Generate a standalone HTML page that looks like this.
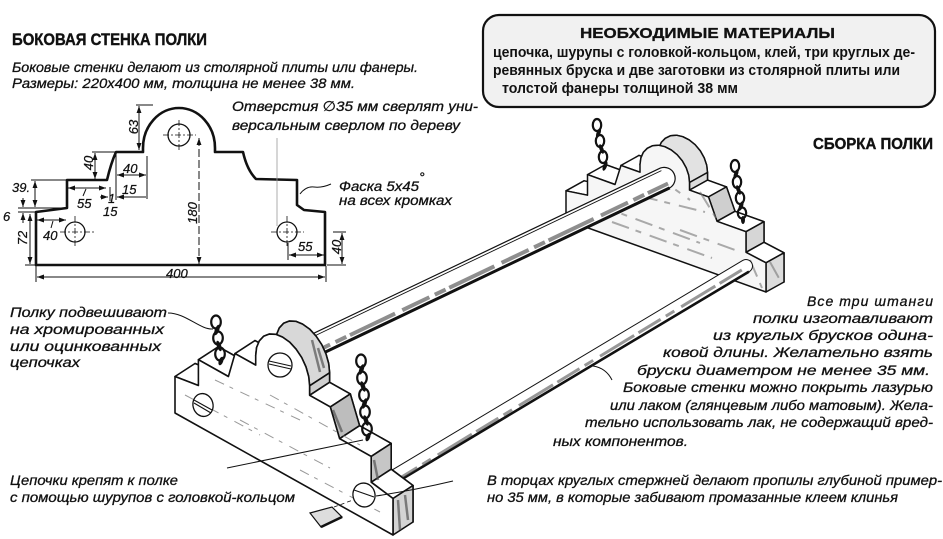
<!DOCTYPE html>
<html><head><meta charset="utf-8"><style>
html,body{margin:0;padding:0;background:#fff;}
svg{display:block;}
text{font-family:"Liberation Sans","DejaVu Sans",sans-serif;fill:#111;}
.it{font-style:italic;font-size:14px;stroke:#111;stroke-width:0.3;}
.b{font-weight:bold;}
.d{font-style:italic;font-size:13px;stroke:#111;stroke-width:0.25;}
</style></head><body>
<svg width="943" height="539" viewBox="0 0 943 539" xmlns="http://www.w3.org/2000/svg">
<defs>
<marker id="ar" viewBox="0 0 10 10" refX="10" refY="5" markerWidth="7" markerHeight="7" orient="auto-start-reverse" markerUnits="userSpaceOnUse"><path d="M0,1.5 L10,5 L0,8.5 z" fill="#111"/></marker>
</defs>
<rect width="943" height="539" fill="#fff"/>

<!-- ===== Left header texts ===== -->
<text x="12" y="45" class="b" font-size="16.5" stroke="#111" stroke-width="0.4" textLength="195" lengthAdjust="spacingAndGlyphs">БОКОВАЯ СТЕНКА ПОЛКИ</text>
<text x="12" y="72" class="it" textLength="406" lengthAdjust="spacingAndGlyphs">Боковые стенки делают из столярной плиты или фанеры.</text>
<text x="12" y="88" class="it" textLength="343" lengthAdjust="spacingAndGlyphs">Размеры: 220х400 мм, толщина не менее 38 мм.</text>
<text x="232" y="111" class="it" textLength="246" lengthAdjust="spacingAndGlyphs">Отверстия ∅35 мм сверлят уни-</text>
<text x="232" y="130" class="it" textLength="228" lengthAdjust="spacingAndGlyphs">версальным сверлом по дереву</text>
<text x="339" y="191" class="it" textLength="80" lengthAdjust="spacingAndGlyphs">Фаска 5х45</text>
<text x="419" y="182" class="it" font-size="8">°</text>
<text x="339" y="205" class="it" textLength="113" lengthAdjust="spacingAndGlyphs">на всех кромках</text>

<!-- ===== Profile drawing ===== -->
<path d="M36,265 L36,212 L67,208 L67,180 L107,180 Q111,163 116,152 L143,152 L143,148 A36,40 0 0 1 215,148 L215,152 L243,152 Q247,170 256,179 L297,180 L297,205 L304,210 L325,212 L325,265 Z" fill="none" stroke="#111" stroke-width="2.6" stroke-linejoin="round"/>
<g fill="none" stroke="#111" stroke-width="1.3">
<circle cx="75" cy="232" r="10"/>
<circle cx="179" cy="135" r="11"/>
<circle cx="287" cy="232" r="10"/>
</g>
<g stroke="#111" stroke-width="0.8" stroke-dasharray="6 2 2 2">
<line x1="60" y1="232" x2="96" y2="232"/><line x1="75" y1="216" x2="75" y2="248"/>
<line x1="163" y1="135" x2="196" y2="135"/><line x1="179" y1="120" x2="179" y2="151"/>
<line x1="271" y1="232" x2="304" y2="232"/><line x1="287" y1="216" x2="287" y2="248"/>
</g>
<line x1="277" y1="138" x2="277" y2="226" stroke="#999" stroke-width="0.8"/>
<g fill="none" stroke="#111" stroke-width="1">
<line x1="136" y1="105" x2="153" y2="105"/>
<line x1="139" y1="106" x2="139" y2="150" marker-start="url(#ar)" marker-end="url(#ar)"/>
<line x1="92" y1="152" x2="115" y2="152"/>
<line x1="95" y1="153" x2="95" y2="179" marker-start="url(#ar)" marker-end="url(#ar)"/>
<line x1="31" y1="180" x2="66" y2="180"/>
<line x1="35" y1="181" x2="35" y2="207" marker-start="url(#ar)" marker-end="url(#ar)"/>
<line x1="18" y1="208" x2="66" y2="208"/>
<line x1="18" y1="212" x2="35" y2="212"/>
<line x1="23" y1="198" x2="23" y2="207" marker-end="url(#ar)"/>
<line x1="23" y1="223" x2="23" y2="213" marker-end="url(#ar)"/>
<line x1="30" y1="214" x2="30" y2="264" marker-start="url(#ar)" marker-end="url(#ar)"/>
<line x1="25" y1="265" x2="35" y2="265"/>
<line x1="37" y1="220" x2="66" y2="220" marker-start="url(#ar)" marker-end="url(#ar)"/>
<line x1="53" y1="221" x2="51" y2="228"/>
<line x1="68" y1="188" x2="106" y2="188" marker-start="url(#ar)" marker-end="url(#ar)"/>
<line x1="86" y1="189" x2="83" y2="196"/>
<line x1="116" y1="153" x2="116" y2="200"/>
<line x1="147" y1="156" x2="147" y2="199"/>
<line x1="117" y1="175" x2="146" y2="175" marker-start="url(#ar)" marker-end="url(#ar)"/>
<line x1="146" y1="197" x2="117" y2="197" marker-end="url(#ar)"/>
<line x1="100" y1="197" x2="108" y2="197" marker-end="url(#ar)"/>
<line x1="110" y1="187" x2="110" y2="201"/>
<line x1="199" y1="138" x2="199" y2="264" stroke-dasharray="8 3" marker-start="url(#ar)" marker-end="url(#ar)"/>
<line x1="288" y1="243" x2="288" y2="260"/>
<line x1="289" y1="255" x2="324" y2="255" marker-start="url(#ar)" marker-end="url(#ar)"/>
<line x1="333" y1="232" x2="346" y2="232"/>
<line x1="327" y1="265" x2="346" y2="265"/>
<line x1="342" y1="233" x2="342" y2="264" marker-start="url(#ar)" marker-end="url(#ar)"/>
<line x1="36" y1="266" x2="36" y2="282"/>
<line x1="326" y1="266" x2="326" y2="282"/>
<line x1="37" y1="277" x2="325" y2="277" marker-start="url(#ar)" marker-end="url(#ar)"/>
<path d="M300,194 Q306,186 314,187 Q322,188 331,184"/>
</g>
<g>
<text transform="translate(138,127) rotate(-90)" text-anchor="middle" class="d">63</text>
<text transform="translate(93,163) rotate(-90)" text-anchor="middle" class="d">40</text>
<text transform="translate(27,238) rotate(-90)" text-anchor="middle" class="d">72</text>
<text transform="translate(197,213) rotate(-90)" text-anchor="middle" class="d">180</text>
<text transform="translate(341,247) rotate(-90)" text-anchor="middle" class="d">40</text>
<text x="123" y="173" class="d">40</text>
<text x="12" y="192" class="d">39.</text>
<text x="77" y="208" class="d">55</text>
<text x="122" y="194" class="d">15</text>
<text x="108" y="203" class="d" font-size="9">1</text>
<text x="103" y="216" class="d">15</text>
<text x="3" y="221" class="d">6</text>
<text x="43" y="240" class="d">40</text>
<text x="298" y="251" class="d">55</text>
<text x="166" y="278" class="d">400</text>
</g>

<!-- ===== Materials box ===== -->
<rect x="483" y="15" width="452" height="92" rx="16" ry="16" fill="#f1f1f1" stroke="#111" stroke-width="2.2"/>
<text x="580" y="38" class="b" font-size="15" stroke="#111" stroke-width="0.3" textLength="255" lengthAdjust="spacingAndGlyphs">НЕОБХОДИМЫЕ МАТЕРИАЛЫ</text>
<text x="493" y="57" font-size="14.5" font-weight="bold" textLength="422" lengthAdjust="spacingAndGlyphs">цепочка, шурупы с головкой-кольцом, клей, три круглых де-</text>
<text x="493" y="75" font-size="14.5" font-weight="bold" textLength="407" lengthAdjust="spacingAndGlyphs">ревянных бруска и две заготовки из столярной плиты или</text>
<text x="502" y="93" font-size="14.5" font-weight="bold" textLength="236" lengthAdjust="spacingAndGlyphs">толстой фанеры толщиной 38 мм</text>

<text x="813" y="149" class="b" font-size="16" stroke="#111" stroke-width="0.4" textLength="120" lengthAdjust="spacingAndGlyphs">СБОРКА ПОЛКИ</text>

<!-- ===== Far wall ===== -->
<g stroke="#111" stroke-width="1.5" stroke-linejoin="round">
<polygon fill="#fff" points="584,210 584,180.8 605.5,185.2 605.5,164.6 633,174.5 639,155.4 658,162.2 658,154.6 658.9,147.9 661.3,142.4 665.3,138.3 670.4,135.8 676.4,135.2 682.8,136.7 689.2,139.9 695.1,144.7 700.3,150.9 704.2,157.9 706.7,165.2 707.5,172.5 707.5,180.1 726.5,186.9 735,211.3 764,221.7 764,242.3 784,252.8 784,282"/>
<polygon fill="#fff" points="566,190.8 587.5,195.2 605.5,185.2 584,180.8"/>
<polygon fill="#fff" points="587.5,174.6 615,184.5 633,174.5 605.5,164.6"/>
<polygon fill="#fff" points="621,165.4 640,172.2 658,162.2 639,155.4"/>
<polygon fill="#e2e2e2" points="640,164.6 640.9,157.9 643.3,152.4 647.3,148.3 652.4,145.8 658.4,145.2 664.8,146.7 671.2,149.9 677.1,154.7 682.3,160.9 686.2,167.9 688.7,175.2 689.5,182.5 707.5,172.5 706.7,165.2 704.2,157.9 700.3,150.9 695.1,144.7 689.2,139.9 682.8,136.7 676.4,135.2 670.4,135.8 665.3,138.3 661.3,142.4 658.9,147.9 658,154.6"/>
<polygon fill="#ddd" points="689.5,182.5 689.5,190.1 707.5,180.1 707.5,172.5"/>
<polygon fill="#fff" points="689.5,190.1 708.5,196.9 726.5,186.9 707.5,180.1"/>
<polygon fill="#cfcfcf" points="708.5,196.9 717,221.3 735,211.3 726.5,186.9"/>
<polygon fill="#fff" points="717,221.3 746,231.7 764,221.7 735,211.3"/>
<polygon fill="#d6d6d6" points="746,231.7 746,252.3 764,242.3 764,221.7"/>
<polygon fill="#fff" points="746,252.3 766,262.8 784,252.8 764,242.3"/>
<polygon fill="#dcdcdc" points="766,262.8 766,292 784,282 784,252.8"/>
<polygon fill="#f6f6f6" points="566,220 566,190.8 587.5,195.2 587.5,174.6 615,184.5 621,165.4 640,172.2 640,164.6 640.9,157.9 643.3,152.4 647.3,148.3 652.4,145.8 658.4,145.2 664.8,146.7 671.2,149.9 677.1,154.7 682.3,160.9 686.2,167.9 688.7,175.2 689.5,182.5 689.5,190.1 708.5,196.9 717,221.3 746,231.7 746,252.3 766,262.8 766,292"/>
</g>
<g stroke="#777" stroke-width="2" fill="none" opacity="0.6" stroke-dasharray="18 7 6 9">
<path d="M598,205 L700,243"/><path d="M612,222 L712,258"/><path d="M640,196 L705,212"/>
<path d="M655,175 L690,200"/><path d="M680,230 L735,250"/><path d="M750,260 L762,288"/>
<path d="M770,262 L780,280"/><path d="M700,192 L716,218"/>
</g>

<!-- ===== Rods ===== -->
<path d="M384.7,474.4 L742.7,260.4 A6.5,6.5 0 0 1 749.3,271.6 L391.3,485.6 Z" fill="#fff" stroke="#111" stroke-width="1"/>
<line x1="391" y1="485.6" x2="749" y2="271.6" stroke="#111" stroke-width="2.6"/>
<line x1="395" y1="481" x2="745" y2="268" stroke="#555" stroke-width="3" opacity="0.6" stroke-dasharray="26 6 10 8 40 5"/>
<path d="M295.3,342.1 L660.3,168.1 A11,11 0 0 1 669.7,187.9 L304.7,361.9 Z" fill="#fff" stroke="#111" stroke-width="1.2"/>
<line x1="296.4" y1="344.6" x2="661.4" y2="170.6" stroke="#111" stroke-width="0.9"/>
<line x1="304.7" y1="361.9" x2="669.7" y2="187.9" stroke="#111" stroke-width="3"/>
<line x1="303" y1="357.5" x2="668" y2="183.5" stroke="#444" stroke-width="4" opacity="0.6" stroke-dasharray="30 6 12 4 50 8"/>

<!-- ===== Near wall ===== -->
<g stroke="#111" stroke-width="1.6" stroke-linejoin="round">
<polygon fill="#fff" points="195,400 195,363.5 218.4,372.5 218.4,346.7 248.4,363.5 255,340.6 275.7,352.1 275.7,342.6 276.6,334.5 279.3,327.9 283.6,323.3 289.1,321.1 295.7,321.3 302.6,324.1 309.6,329.1 316.1,336.2 321.7,344.6 326,354 328.7,363.6 329.6,372.8 329.6,382.3 350.3,393.9 359.6,425.7 391.2,443.4 391.2,469.2 413,485.5 413,522"/>
<polygon fill="#fff" points="175,376.5 198.4,385.5 218.4,372.5 195,363.5"/>
<polygon fill="#fff" points="198.4,359.7 228.4,376.5 248.4,363.5 218.4,346.7"/>
<polygon fill="#fff" points="235,353.6 255.7,365.1 275.7,352.1 255,340.6"/>
<polygon fill="#d8d8d8" points="255.7,355.6 256.6,347.5 259.3,340.9 263.6,336.3 269.1,334.1 275.7,334.3 282.6,337.1 289.6,342.1 296.1,349.2 301.7,357.6 306,367 308.7,376.6 309.6,385.8 329.6,372.8 328.7,363.6 326,354 321.7,344.6 316.1,336.2 309.6,329.1 302.6,324.1 295.7,321.3 289.1,321.1 283.6,323.3 279.3,327.9 276.6,334.5 275.7,342.6"/>
<polygon fill="#cfcfcf" points="309.6,385.8 309.6,395.3 329.6,382.3 329.6,372.8"/>
<polygon fill="#fff" points="309.6,395.3 330.3,406.9 350.3,393.9 329.6,382.3"/>
<polygon fill="#bdbdbd" points="330.3,406.9 339.6,438.7 359.6,425.7 350.3,393.9"/>
<polygon fill="#fff" points="339.6,438.7 371.2,456.4 391.2,443.4 359.6,425.7"/>
<polygon fill="#c6c6c6" points="371.2,456.4 371.2,482.2 391.2,469.2 391.2,443.4"/>
<polygon fill="#fff" points="371.2,482.2 393,498.5 413,485.5 391.2,469.2"/>
<polygon fill="#d4d4d4" points="393,498.5 393,535 413,522 413,485.5"/>
<polygon fill="#fff" points="175,413 175,376.5 198.4,385.5 198.4,359.7 228.4,376.5 235,353.6 255.7,365.1 255.7,355.6 256.6,347.5 259.3,340.9 263.6,336.3 269.1,334.1 275.7,334.3 282.6,337.1 289.6,342.1 296.1,349.2 301.7,357.6 306,367 308.7,376.6 309.6,385.8 309.6,395.3 330.3,406.9 339.6,438.7 371.2,456.4 371.2,482.2 393,498.5 393,535"/>
</g>
<g stroke="#555" stroke-width="2.5" fill="none" opacity="0.7">
<path d="M333,410 L342,432"/><path d="M374,460 L378,480"/><path d="M398,500 L400,530"/><path d="M405,495 L408,520"/>
<path d="M312,340 L320,372"/><path d="M318,348 L324,368"/>
</g>
<g stroke="#999" stroke-width="1" fill="none" stroke-dasharray="10 6 4 8">
<path d="M185,395 L260,435"/><path d="M215,380 L300,420"/><path d="M240,420 L330,468"/><path d="M270,395 L360,445"/><path d="M300,470 L380,512"/>
</g>
<g fill="#fff" stroke="#111" stroke-width="1.3">
<ellipse cx="203" cy="405" rx="10" ry="11.5" transform="rotate(-15 203 405)"/>
<ellipse cx="280" cy="365" rx="12" ry="12"/>
<ellipse cx="364" cy="495" rx="11" ry="12" transform="rotate(-15 364 495)"/>
</g>
<g stroke="#111" stroke-width="1.1">
<line x1="194" y1="400" x2="212" y2="410"/><line x1="194" y1="403" x2="211" y2="413"/>
<line x1="269" y1="361" x2="291" y2="366"/><line x1="269" y1="364" x2="291" y2="369"/>
<line x1="354" y1="490" x2="374" y2="497"/>
</g>
<polygon points="310,513 332,507 342,517 321,527" fill="#ddd" stroke="#111" stroke-width="1.2"/>
<line x1="321" y1="527" x2="342" y2="517" stroke="#111" stroke-width="2.5"/>
<line x1="334" y1="507" x2="353" y2="500" stroke="#111" stroke-width="0.8" stroke-dasharray="4 3"/>

<!-- ===== Chains ===== -->
<g fill="none" stroke="#111" stroke-width="2.2">
<ellipse cx="216" cy="322" rx="4.8" ry="6.5"/><ellipse cx="218" cy="338" rx="4.8" ry="6.5"/><ellipse cx="220" cy="354" rx="4.8" ry="6.5"/>
<ellipse cx="361" cy="361" rx="4.8" ry="6.5"/><ellipse cx="362" cy="378" rx="4.8" ry="6.5"/><ellipse cx="364" cy="395" rx="4.8" ry="6.5"/><ellipse cx="365" cy="412" rx="4.8" ry="6.5"/><ellipse cx="367" cy="429" rx="4.8" ry="6.5"/>
<ellipse cx="597" cy="125" rx="4.2" ry="6"/><ellipse cx="600" cy="141" rx="4.2" ry="6"/><ellipse cx="603" cy="157" rx="4.2" ry="6"/>
<ellipse cx="735" cy="166" rx="4.2" ry="6"/><ellipse cx="737" cy="182" rx="4.2" ry="6"/><ellipse cx="740" cy="198" rx="4.2" ry="6"/><ellipse cx="742" cy="213" rx="4.2" ry="5.5"/>
</g>
<g fill="#111">
<ellipse cx="217" cy="330" rx="2.2" ry="5.5" transform="rotate(20 217 330)"/><ellipse cx="219" cy="346" rx="2.2" ry="5.5" transform="rotate(-20 219 346)"/><ellipse cx="221" cy="361" rx="2.2" ry="4.5" transform="rotate(20 221 361)"/>
<ellipse cx="361.5" cy="369.5" rx="2.2" ry="5.5" transform="rotate(20 361.5 369.5)"/><ellipse cx="363" cy="386.5" rx="2.2" ry="5.5" transform="rotate(-20 363 386.5)"/><ellipse cx="364.5" cy="403.5" rx="2.2" ry="5.5" transform="rotate(20 364.5 403.5)"/><ellipse cx="366" cy="420.5" rx="2.2" ry="5.5" transform="rotate(-20 366 420.5)"/><ellipse cx="368" cy="437" rx="2.2" ry="4.5" transform="rotate(20 368 437)"/>
<ellipse cx="598.5" cy="133" rx="2" ry="5" transform="rotate(20 598.5 133)"/><ellipse cx="601.5" cy="149" rx="2" ry="5" transform="rotate(-20 601.5 149)"/><ellipse cx="605" cy="166" rx="2" ry="5" transform="rotate(20 605 166)"/>
<ellipse cx="736" cy="174" rx="2" ry="5" transform="rotate(20 736 174)"/><ellipse cx="738.5" cy="190" rx="2" ry="5" transform="rotate(-20 738.5 190)"/><ellipse cx="741" cy="206" rx="2" ry="5" transform="rotate(20 741 206)"/><ellipse cx="743" cy="220" rx="2" ry="4"/>
</g>

<!-- ===== Leaders ===== -->
<g fill="none" stroke="#111" stroke-width="1">
<path d="M168,313 C186,313 200,330 213,329"/>
<path d="M227,468 L363,440"/>
<path d="M376,496 Q415,490 453,481"/>
<path d="M593,366 Q606,368 612,380"/>
</g>

<!-- ===== Left bottom texts ===== -->
<text x="10" y="317" class="it" textLength="157" lengthAdjust="spacingAndGlyphs">Полку подвешивают</text>
<text x="10" y="334" class="it" textLength="154" lengthAdjust="spacingAndGlyphs">на хромированных</text>
<text x="10" y="351" class="it" textLength="151" lengthAdjust="spacingAndGlyphs">или оцинкованных</text>
<text x="10" y="367" class="it" textLength="70" lengthAdjust="spacingAndGlyphs">цепочках</text>
<text x="10" y="485" class="it" textLength="168" lengthAdjust="spacingAndGlyphs">Цепочки крепят к полке</text>
<text x="10" y="502" class="it" textLength="285" lengthAdjust="spacingAndGlyphs">с помощью шурупов с головкой-кольцом</text>

<!-- ===== Right texts ===== -->
<g font-size="14.5">
<text x="807" y="306" textLength="126" lengthAdjust="spacing" class="it" font-size="14.5">Все три штанги</text>
<text x="753" y="323" textLength="180" lengthAdjust="spacingAndGlyphs" class="it" font-size="14.5">полки изготавливают</text>
<text x="713" y="340" textLength="220" lengthAdjust="spacingAndGlyphs" class="it" font-size="14.5">из круглых брусков одина-</text>
<text x="663" y="357" textLength="270" lengthAdjust="spacingAndGlyphs" class="it" font-size="14.5">ковой длины. Желательно взять</text>
<text x="637" y="375" textLength="293" lengthAdjust="spacingAndGlyphs" class="it" font-size="14.5">бруски диаметром не менее 35 мм.</text>
<text x="623" y="392" textLength="310" lengthAdjust="spacingAndGlyphs" class="it" font-size="14.5">Боковые стенки можно покрыть лазурью</text>
<text x="610" y="410" textLength="323" lengthAdjust="spacingAndGlyphs" class="it" font-size="14.5">или лаком (глянцевым либо матовым). Жела-</text>
<text x="585" y="427" textLength="348" lengthAdjust="spacingAndGlyphs" class="it" font-size="14.5">тельно использовать лак, не содержащий вред-</text>
<text x="553" y="446" textLength="135" lengthAdjust="spacingAndGlyphs" class="it" font-size="14.5">ных компонентов.</text>
<text x="487" y="485" textLength="455" lengthAdjust="spacingAndGlyphs" class="it" font-size="14.5">В торцах круглых стержней делают пропилы глубиной пример-</text>
<text x="487" y="502" textLength="411" lengthAdjust="spacingAndGlyphs" class="it" font-size="14.5">но 35 мм, в которые забивают промазанные клеем клинья</text>
</g>
</svg>
</body></html>
